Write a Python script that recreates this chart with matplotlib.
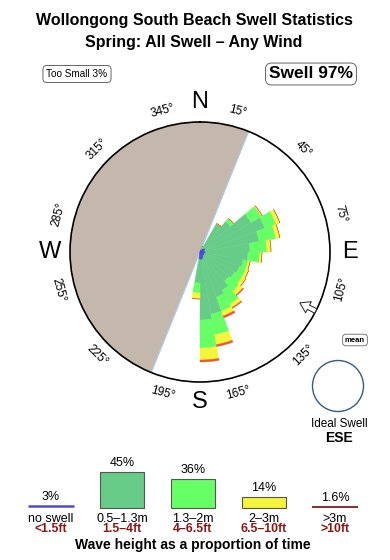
import numpy as np
import matplotlib
matplotlib.use("Agg")
import matplotlib.pyplot as plt
from matplotlib.patches import Ellipse

plt.rcParams['font.family'] = ['Liberation Sans', 'DejaVu Sans']

# ---------------- data ----------------
title1 = "Wollongong South Beach Swell Statistics"
title2 = "Spring: All Swell \u2013 Any Wind"

# direction bins (start bearing, 10 deg wide)
bin_start = [20, 30, 40, 50, 60, 70, 80, 90, 100, 110, 120, 130, 140, 150, 160, 170, 180]
# radial segment lengths per bin (radius units, rim = 130)
seg_noswell = [3, 4, 5, 6, 6, 5, 5, 6, 5, 5, 5, 5, 6, 7, 8, 8, 7]
seg_small   = [3, 29, 35, 53, 63, 55, 45, 42, 39, 37, 35, 33, 38, 41, 55, 60, 24]
seg_medium  = [0, 0, 4, 12, 12, 17, 17, 12, 5, 7, 9, 13, 16, 15, 21, 28, 10]
seg_large   = [0, 0, 0, 1, 4, 4, 4, 2, 2, 3, 4, 5, 4, 5, 10, 12, 6]
seg_xlarge  = [0, 0, 0, 0, 0, 0, 0, 0, 0, 0, 0, 1, 1, 2, 2, 2, 0]

land_from, land_to = 202, 382
mean_dir = 117
tick_bearings = [15, 45, 75, 105, 135, 165, 195, 225, 255, 285, 315, 345]
compass = ['N', 'E', 'S', 'W']
compass_deg = [0, 90, 180, 270]

legend_pct = [3, 45, 36, 14, 1.6]
legend_pct_txt = ["3%", "45%", "36%", "14%", "1.6%"]
legend_m = ["no swell", "0.5\u20131.3m", "1.3\u20132m", "2\u20133m", ">3m"]
legend_ft = ["<1.5ft", "1.5\u20134ft", "4\u20136.5ft", "6.5\u201310ft", ">10ft"]

too_small_txt = "Too Small 3%"
swell_txt = "Swell 97%"
ideal_dir = "ESE"

# ---------------- colours ----------------
c_blue = '#4B4BD8'
c_teal = '#66CC88'
c_lg = '#66FF66'
c_yel = '#F5F53C'
c_red = '#EE5533'
c_land = '#C4B8AC'
c_dred = '#8B1515'

W, H = 390, 560
fig = plt.figure(figsize=(W / 100, H / 100), dpi=100)

def fx(x):
    return x / W

def fy(y):
    return 1 - y / H

# ---------------- titles ----------------
fig.text(fx(194), fy(20), title1, ha='center', va='center', fontsize=11.5, fontweight='bold')
fig.text(fx(194), fy(42), title2, ha='center', va='center', fontsize=11.5, fontweight='bold')

fig.text(fx(77), fy(74), too_small_txt, ha='center', va='center', fontsize=7.2,
         bbox=dict(boxstyle='round,pad=0.35,rounding_size=0.4', fc='white', ec='#666666', lw=0.7))
fig.text(fx(311), fy(74), swell_txt, ha='center', va='center', fontsize=12.5, fontweight='bold',
         bbox=dict(boxstyle='round,pad=0.2,rounding_size=0.35', fc='white', ec='#666666', lw=0.7))

# ---------------- rose ----------------
R = 130
ax = fig.add_axes([fx(200 - R), (H - 252 - R) / H, 2 * R / W, 2 * R / H], projection='polar')
ax.set_theta_zero_location('N')
ax.set_theta_direction(-1)
ax.set_ylim(0, R)
ax.set_yticks([])
ax.grid(False)
ax.set_xticks(np.radians(tick_bearings))
ax.set_xticklabels([])
ax.tick_params(axis='x', direction='in', length=4, width=0.8, colors='black')
ax.spines['polar'].set_linewidth(1.2)
ax.set_facecolor('white')

# land sector
lw_ = np.radians(land_to - land_from)
ax.bar(np.radians((land_from + land_to) / 2), R, width=lw_, bottom=0, color=c_land,
       edgecolor=c_land, linewidth=0.3, zorder=1)
ax.plot([np.radians(land_from)] * 2, [0, R], color='#A8D0EE', lw=0.8, zorder=2)
ax.plot([np.radians(land_to)] * 2, [0, R], color='#A8D0EE', lw=0.8, zorder=2)

theta = np.radians(np.array(bin_start) + 5)
width = np.radians(10)
cum = np.zeros(len(bin_start))
for seg, col in [(seg_noswell, c_blue), (seg_small, c_teal), (seg_medium, c_lg),
                 (seg_large, c_yel), (seg_xlarge, c_red)]:
    seg = np.array(seg, dtype=float)
    ax.bar(theta, seg, width=width, bottom=cum, color=col, edgecolor=col,
           linewidth=0.3, zorder=3)
    cum = cum + seg

# degree labels
for b in tick_bearings:
    rot = -b if (b < 90 or b > 270) else 180 - b
    ax.text(np.radians(b), 146, f"{b}\u00b0", rotation=rot, rotation_mode='anchor',
            ha='center', va='center', fontsize=8.5)

for lab, d in zip(compass, compass_deg):
    ax.text(np.radians(d), 150, lab, ha='center', va='center', fontsize=17)

# mean arrow
ax.annotate('', xy=(np.radians(mean_dir), 112), xytext=(np.radians(mean_dir), 130),
            arrowprops=dict(arrowstyle='simple,head_length=0.7,head_width=0.9,tail_width=0.35',
                            fc='white', ec='#222222', lw=0.7, mutation_scale=10,
                            shrinkA=0, shrinkB=0), zorder=5)

fig.text(fx(355), fy(340), 'mean', ha='center', va='center', fontsize=5.5, fontweight='bold',
         bbox=dict(boxstyle='round,pad=0.3,rounding_size=0.4', fc='white', ec='#666666', lw=0.6))

# ideal swell circle
fig.add_artist(Ellipse((fx(338), fy(386)), 2 * 25.5 / W, 2 * 25.5 / H, transform=fig.transFigure,
                       fc='none', ec='#3A5A80', lw=1.0))
fig.text(fx(339), fy(424), 'Ideal Swell', ha='center', va='center', fontsize=8.5)
fig.text(fx(339), fy(438.5), ideal_dir, ha='center', va='center', fontsize=10, fontweight='bold')

# ---------------- legend ----------------
px_per_pct = 0.815
base_y = 508.3
lax = fig.add_axes([0, 0, 1, 120 / H])
lax.axis('off')
lax.set_xlim(-51 / 71, (W - 51) / 71)
lax.set_ylim(-(H - base_y) / px_per_pct, (base_y - 440) / px_per_pct)

def ly(ypx):
    return (base_y - ypx) / px_per_pct

idx = np.arange(len(legend_pct))
lax.bar(idx[1:4], legend_pct[1:4], width=0.62, color=[c_teal, c_lg, c_yel],
        edgecolor='#555555', linewidth=0.8)
lax.hlines([legend_pct[0]], idx[0] - 0.33, idx[0] + 0.33, colors=c_blue, lw=1.8)
lax.hlines([legend_pct[4]], idx[4] - 0.33, idx[4] + 0.33, colors='#7A3A3A', lw=1.5)

for i, (v, t) in enumerate(zip(legend_pct, legend_pct_txt)):
    lax.annotate(t, xy=(i, v), xytext=(0, 6.3), textcoords='offset points',
                 ha='center', va='center', fontsize=9)
    lax.text(i, ly(518.5), legend_m[i], ha='center', va='center', fontsize=9)
    lax.text(i, ly(529.5), legend_ft[i], ha='center', va='center', fontsize=8.8,
             fontweight='bold', color=c_dred)

lax.text(2, ly(545), 'Wave height as a proportion of time', ha='center', va='center',
         fontsize=10, fontweight='bold')

fig.savefig('out.png', dpi=100)
